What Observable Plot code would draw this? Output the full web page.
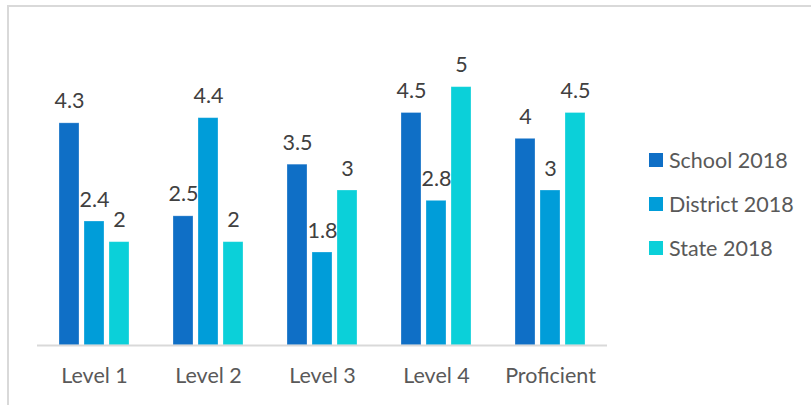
<!DOCTYPE html>
<html>
<head>
<meta charset="utf-8">
<script src="https://cdn.jsdelivr.net/npm/d3@7"></script>
<script src="https://cdn.jsdelivr.net/npm/@observablehq/plot@0.6"></script>
<style>
  html, body { margin: 0; padding: 0; background: #fff; }
  #wrap { position: relative; width: 811px; height: 405px; overflow: hidden; font-family: Lato, sans-serif; }
  #border { position: absolute; left: 7px; top: 5px; width: 900px; height: 500px; border-left: 2px solid #d9d9d9; border-top: 2px solid #d9d9d9; }
  #chart { position: absolute; left: 0; top: 0; }
  #legend { position: absolute; left: 649px; top: 138px; }
  .item { display: flex; align-items: center; height: 44px; font-size: 21.5px; color: #595959; }
  .sw { width: 14px; height: 14px; margin-right: 6px; }
</style>
</head>
<body>
<div id="wrap">
  <div id="border"></div>
  <div id="chart"></div>
  <div id="legend"></div>
</div>
<script>
const categories = ["Level 1", "Level 2", "Level 3", "Level 4", "Proficient"];
const seriesNames = ["School 2018", "District 2018", "State 2018"];
const school2018 = [4.3, 2.5, 3.5, 4.5, 4];
const district2018 = [2.4, 4.4, 1.8, 2.8, 3];
const state2018 = [2, 2, 3, 5, 4.5];
const colors = ["#0F6FC6", "#009DD9", "#0BD0D9"];

const seriesValues = [school2018, district2018, state2018];
const data = [];
categories.forEach((c, i) => {
  seriesNames.forEach((s, j) => {
    data.push({category: c, series: s, value: seriesValues[j][i]});
  });
});

const chart = Plot.plot({
  width: 811,
  height: 405,
  marginLeft: 37,
  marginRight: 204,
  marginTop: 35,
  marginBottom: 60,
  style: {fontFamily: "Lato, sans-serif", background: "transparent", overflow: "visible"},
  fx: {domain: categories, padding: 0, label: null},
  x: {domain: seriesNames, paddingInner: 0.22, paddingOuter: 0.89, axis: null},
  y: {domain: [0, 6], axis: null},
  color: {domain: seriesNames, range: colors},
  marks: [
    Plot.barY(data, {fx: "category", x: "series", y: "value", fill: "series", stroke: "#ffffff", strokeOpacity: 0.35, strokeWidth: 0.8}),
    Plot.ruleY([0], {stroke: "#d9d9d9", strokeWidth: 2}),
    Plot.text(data, {fx: "category", x: "series", y: "value", text: d => String(d.value), lineAnchor: "bottom", dy: -15, fontSize: 21.5, fill: "#404040"}),
    Plot.axisFx({anchor: "bottom", tickSize: 0, tickPadding: 22, fontSize: 21.5, label: null, color: "#595959"})
  ]
});
document.getElementById("chart").appendChild(chart);

const legend = document.getElementById("legend");
seriesNames.forEach((s, j) => {
  const item = document.createElement("div");
  item.className = "item";
  const sw = document.createElement("div");
  sw.className = "sw";
  sw.style.background = colors[j];
  const t = document.createElement("span");
  t.textContent = s;
  item.appendChild(sw);
  item.appendChild(t);
  legend.appendChild(item);
});
</script>
</body>
</html>
